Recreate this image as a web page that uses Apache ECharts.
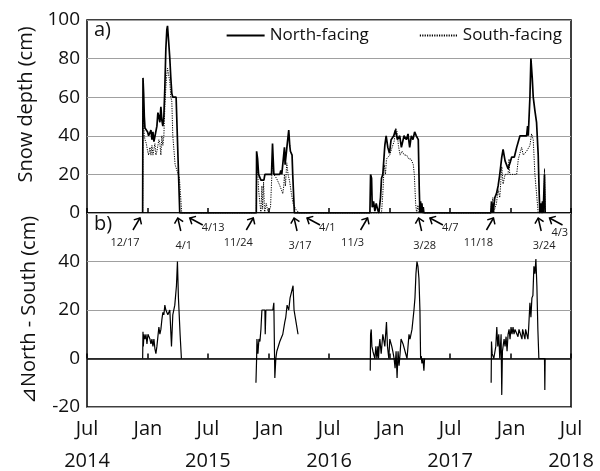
<!DOCTYPE html>
<html><head><meta charset="utf-8">
<script src="https://cdn.jsdelivr.net/npm/echarts@6/dist/echarts.min.js"></script>
<style>html,body{margin:0;padding:0;background:#fff}#c{width:600px;height:471px}</style>
</head><body><div id="c"></div><script>
// ---------------- data ----------------
const northDates = [
 '2014-12-16','2014-12-17','2014-12-19','2014-12-21','2014-12-23','2014-12-27','2014-12-31','2015-01-03','2015-01-07','2015-01-10',
 '2015-01-13','2015-01-16','2015-01-19','2015-01-22','2015-01-25','2015-01-28','2015-01-31','2015-02-03','2015-02-06','2015-02-09',
 '2015-02-12','2015-02-15','2015-02-18','2015-02-21','2015-02-24','2015-02-27','2015-03-01','2015-03-04','2015-03-08','2015-03-11',
 '2015-03-14','2015-03-17','2015-03-27','2015-04-07',
 '2015-11-24','2015-11-25','2015-11-28','2015-12-01','2015-12-05','2015-12-08','2015-12-17','2015-12-20','2016-01-09','2016-01-12',
 '2016-01-14','2016-01-16','2016-02-03','2016-02-06','2016-02-09','2016-02-14','2016-02-17','2016-02-19','2016-02-22','2016-02-25',
 '2016-03-01','2016-03-04','2016-03-06','2016-03-11','2016-03-13','2016-03-18',
 '2016-11-01','2016-11-03','2016-11-06','2016-11-08','2016-11-12','2016-11-16','2016-11-20','2016-11-24','2016-11-28','2016-12-03',
 '2016-12-06','2016-12-10','2016-12-16','2016-12-20','2016-12-25','2016-12-30','2017-01-04','2017-01-12','2017-01-17','2017-01-23',
 '2017-01-30','2017-02-04','2017-02-12','2017-02-19','2017-02-24','2017-03-01','2017-03-06','2017-03-11','2017-03-16','2017-03-21',
 '2017-03-27','2017-03-30','2017-04-01','2017-04-03','2017-04-05','2017-04-07','2017-04-09','2017-04-11','2017-04-13',
 '2017-11-01','2017-11-03','2017-11-04','2017-11-06','2017-11-08','2017-11-13','2017-11-18','2017-11-23','2017-11-28','2017-12-04',
 '2017-12-08','2017-12-14','2017-12-19','2017-12-23','2017-12-29','2018-01-03','2018-01-11','2018-01-18','2018-01-23','2018-01-28',
 '2018-02-07','2018-02-17','2018-02-20','2018-02-22','2018-02-27','2018-03-02','2018-03-06','2018-03-09','2018-03-14','2018-03-19',
 '2018-03-24','2018-03-27','2018-03-29','2018-04-01','2018-04-03','2018-04-06','2018-04-08','2018-04-12','2018-04-14'
];
const northDepth = [
 0,70,62,50,44,43,42,40,40,43,
 38,42,37,36,36,45,52,50,47,55,
 48,45,50,65,85,95,97,90,80,70,
 62,60,60,0,
 0,32,28,20,20,17,17,20,20,36,
 28,20,20,22,20,20,34,25,30,35,
 43,35,32,30,20,0,
 0,20,18,3,6,1,5,2,0,8,
 18,20,35,40,34,31,38,40,43,38,
 40,34,40,38,41,34,40,38,42,40,
 38,12,0,6,0,5,0,3,0,
 0,6,0,5,0,8,10,14,20,29,
 33,27,27,23,26,29,29,34,35,40,
 40,40,45,40,60,80,70,60,53,47,
 30,10,0,5,0,6,0,20,0
];
const southDates = [
 '2014-12-16','2014-12-17','2014-12-19','2014-12-21','2014-12-23','2014-12-27','2014-12-31','2015-01-03','2015-01-07','2015-01-10',
 '2015-01-13','2015-01-16','2015-01-19','2015-01-22','2015-01-25','2015-01-28','2015-01-31','2015-02-03','2015-02-06','2015-02-09',
 '2015-02-12','2015-02-15','2015-02-18','2015-02-21','2015-02-24','2015-02-27','2015-03-01','2015-03-04','2015-03-08','2015-03-11',
 '2015-03-14','2015-03-17','2015-03-24','2015-04-06','2015-04-13',
 '2015-11-24','2015-11-25','2015-11-28','2015-12-01','2015-12-05','2015-12-08','2015-12-11','2015-12-13','2015-12-16','2015-12-19',
 '2015-12-24','2015-12-30','2016-01-06','2016-01-12','2016-01-16','2016-01-24','2016-02-01','2016-02-08','2016-02-12','2016-02-15',
 '2016-02-17','2016-02-20','2016-02-24','2016-02-28','2016-03-04','2016-03-09','2016-03-14','2016-03-22','2016-04-01',
 '2016-12-06','2016-12-10','2016-12-14','2016-12-18','2016-12-21','2016-12-26','2016-12-31','2017-01-05','2017-01-13','2017-01-18',
 '2017-01-22','2017-01-26','2017-01-31','2017-02-06','2017-02-13','2017-02-20','2017-02-26','2017-03-05','2017-03-12','2017-03-15',
 '2017-03-19','2017-03-22','2017-03-26','2017-03-30','2017-04-03','2017-04-07',
 '2017-11-01','2017-11-03','2017-11-05','2017-11-07','2017-11-09','2017-11-18','2017-11-23','2017-11-28','2017-12-04','2017-12-08',
 '2017-12-14','2017-12-23','2017-12-26','2017-12-28','2018-01-11','2018-01-18','2018-01-23','2018-01-28','2018-02-02','2018-02-07',
 '2018-02-17','2018-02-27','2018-03-04','2018-03-09','2018-03-14','2018-03-19','2018-03-24','2018-04-10','2018-04-12','2018-04-14'
];
const southDepth = [
 0,55,48,40,38,36,32,30,34,30,
 35,30,33,36,30,32,32,38,36,30,
 40,35,40,55,65,72,75,72,68,60,
 58,40,25,18,0,
 0,28,22,12,5,0,14,2,16,0,
 5,0,3,28,20,18,15,12,10,14,
 20,14,26,20,16,10,5,2,0,
 0,10,25,20,28,28,30,33,37,44,
 42,35,30,32,30,30,28,28,25,20,
 5,0,4,0,3,0,
 0,5,0,8,0,5,12,8,24,15,
 20,20,28,20,20,20,28,28,34,30,
 32,35,41,38,20,10,0,0,23,0
];
const diffDates = [
 '2014-12-16','2014-12-17','2014-12-18','2014-12-20','2014-12-23','2014-12-26','2014-12-29','2015-01-01','2015-01-04','2015-01-07',
 '2015-01-10','2015-01-13','2015-01-16','2015-01-19','2015-01-22','2015-01-25','2015-01-28','2015-01-31','2015-02-03','2015-02-06',
 '2015-02-09','2015-02-12','2015-02-15','2015-02-18','2015-02-21','2015-02-24','2015-03-02','2015-03-08','2015-03-13','2015-03-17',
 '2015-03-23','2015-03-28','2015-03-31','2015-04-03','2015-04-08','2015-04-12','2015-07-01',
 '2015-11-23','2015-11-25','2015-11-26','2015-11-29','2015-12-02','2015-12-05','2015-12-08','2015-12-11','2015-12-20','2015-12-21',
 '2015-12-23','2016-01-04','2016-01-13','2016-01-16','2016-01-19','2016-01-22','2016-01-25','2016-02-03','2016-02-12','2016-02-18',
 '2016-02-21','2016-02-25','2016-03-01','2016-03-05','2016-03-14','2016-03-17','2016-03-20','2016-03-23','2016-03-29','2016-07-01',
 '2016-11-02','2016-11-03','2016-11-05','2016-11-07','2016-11-10','2016-11-16','2016-11-19','2016-11-22','2016-11-25','2016-11-27',
 '2016-11-29','2016-12-01','2016-12-05','2016-12-10','2016-12-16','2016-12-21','2016-12-24','2016-12-28','2016-12-31','2017-01-06',
 '2017-01-09','2017-01-13','2017-01-16','2017-01-19','2017-01-22','2017-01-25','2017-01-28','2017-01-31','2017-02-03','2017-02-09',
 '2017-02-15','2017-02-21','2017-02-24','2017-02-27','2017-03-02','2017-03-08','2017-03-14','2017-03-17','2017-03-20','2017-03-23',
 '2017-03-26','2017-03-29','2017-04-01','2017-04-03','2017-04-05','2017-04-07','2017-04-10','2017-04-13','2017-04-15','2017-07-01',
 '2017-11-02','2017-11-03','2017-11-05','2017-11-10','2017-11-16','2017-11-19','2017-11-22','2017-11-25','2017-11-28','2017-12-02',
 '2017-12-04','2017-12-06','2017-12-11','2017-12-14','2017-12-17','2017-12-20','2017-12-23','2017-12-26','2017-12-29','2018-01-01',
 '2018-01-04','2018-01-07','2018-01-10','2018-01-13','2018-01-19','2018-01-22','2018-01-25','2018-01-31','2018-02-03','2018-02-05',
 '2018-02-09','2018-02-12','2018-02-14','2018-02-18','2018-02-21','2018-02-23','2018-02-27','2018-03-02','2018-03-05','2018-03-08',
 '2018-03-11','2018-03-14','2018-03-17','2018-03-20','2018-03-23','2018-03-26','2018-04-12','2018-04-13','2018-04-14'
];
const diffValues = [
 0,11,5,10,8,10,6,10,10,8,
 6,8,5,8,4,2,5,9,13,10,
 12,16,19,18,22,20,18,20,5,18,
 22,30,40,25,10,0,null,
 -10,0,8,2,8,7,12,20,20,10,
 20,20,20,23,-8,0,3,7,10,15,
 17,22,20,25,30,20,20,15,10,null,
 -5,10,12,5,3,0,5,0,5,0,
 5,8,2,10,5,15,5,0,8,5,
 3,0,-4,3,-8,3,-3,2,8,6,
 3,0,5,10,8,12,20,25,35,40,
 38,33,20,0,1,-2,0,-5,0,null,
 -10,7,2,0,5,13,5,10,0,10,
 -15,3,8,5,9,3,10,12,8,13,
 10,13,10,12,12,9,12,12,8,12,
 12,8,12,12,8,12,23,17,25,26,
 38,35,41,30,12,0,0,-13,0
];
const xTickDates  = ['2014-07-01','2015-01-01','2015-07-01','2016-01-01','2016-07-01','2017-01-01','2017-07-01','2018-01-01','2018-07-01'];
const xTickMonths = ['Jul','Jan','Jul','Jan','Jul','Jan','Jul','Jan','Jul'];
const xTickYears  = ['2014','','2015','','2016','','2017','','2018'];
const annotDates  = ['2014-12-17','2015-04-01','2015-04-13','2015-11-24','2016-03-17','2016-04-01','2016-11-03','2017-03-28','2017-04-07','2017-11-18','2018-03-24','2018-04-03'];
const annotLabels = ['12/17','4/1','4/13','11/24','3/17','4/1','11/3','3/28','4/7','11/18','3/24','4/3'];
const annotKinds  = ['start','end','end2','start','end','end2','start','end','end2','start','end','end2'];

// ---------------- styling ----------------
const FONT = '"Open Sans", "Noto Sans", sans-serif';
const TXT = '#111';
const ARROW = {
  start: {dx:-3, tail:[-7,12], lx:-15, ly:25, align:'center'},
  end:   {dx:0,  tail:[3,13],  lx:6,   ly:28, align:'center'},
  end2:  {dx:8,  tail:[13,7],  lx:12,  ly:10, align:'left'}
};
const GRID_RIGHT = 29;

function ts(s){const p=s.split('-');return Date.UTC(+p[0],+p[1]-1,+p[2]);}
function zip(d,v){return d.map((x,i)=>[ts(x), v[i]]);}
const tickTs = xTickDates.map(ts);
function xLabel(v){
  const i = tickTs.findIndex(t=>Math.abs(t-v)<43200000);
  if(i<0) return '';
  return '{m|'+xTickMonths[i]+'}\n{y|'+(xTickYears[i]||' ')+'}';
}
function head(tip, tail){
  const a = Math.atan2(tail[1]-tip[1], tail[0]-tip[0]);
  const L = 6.5, w = 0.75;
  return [[tip[0]+L*Math.cos(a-w), tip[1]+L*Math.sin(a-w)], tip, [tip[0]+L*Math.cos(a+w), tip[1]+L*Math.sin(a+w)]];
}

const chart = echarts.init(document.getElementById('c'));
const xMin = ts('2014-07-01'), xMax = ts('2018-07-01');
const axisX = (gi, showLabel)=>({
  gridIndex:gi, type:'value', min:xMin, max:xMax,
  axisLine:{show:false},
  axisTick:{show:true, inside:true, length:5, lineStyle:{color:'#000', width:1.5}, customValues:tickTs},
  axisLabel:{show:showLabel, customValues:tickTs, formatter:xLabel, margin:10, color:TXT, fontFamily:FONT,
    rich:{m:{fontSize:20, lineHeight:24, fontFamily:FONT, color:TXT}, y:{fontSize:20, lineHeight:40, fontFamily:FONT, color:TXT}}},
  splitLine:{show:false}
});
const yCommon = {
  type:'value', axisLine:{show:false}, axisTick:{show:false},
  splitLine:{show:true, lineStyle:{color:'#a0a0a0', width:1}},
  nameLocation:'middle', nameGap:48,
};

chart.setOption({
  animation:false,
  textStyle:{fontFamily:FONT},
  grid:[
    {left:87, right:GRID_RIGHT, top:20, height:193, show:true, borderColor:'#000', borderWidth:1.5},
    {left:87, right:GRID_RIGHT, top:213, height:194, show:true, borderColor:'#000', borderWidth:1.5}
  ],
  legend:{
    data:['North-facing','South-facing'], right:33, top:22, itemGap:50, itemWidth:38, itemHeight:12,
    itemStyle:{color:'transparent', borderColor:'transparent', borderWidth:0, opacity:0},
    textStyle:{fontSize:17, color:TXT, fontFamily:FONT}
  },
  xAxis:[axisX(0,false), axisX(1,true)],
  yAxis:[
    Object.assign({}, yCommon, {gridIndex:0, min:0, max:100, interval:20,
      axisLabel:{fontSize:19, color:TXT, margin:7, fontFamily:FONT},
      name:'Snow depth (cm)', nameTextStyle:{fontSize:20, color:TXT, fontFamily:FONT, padding:[0,0,0,24]}}),
    Object.assign({}, yCommon, {gridIndex:1, min:-20, max:60, interval:20,
      axisLabel:{fontSize:19, color:TXT, margin:7, fontFamily:FONT, formatter:v=> v===60 ? '' : String(v)},
      name:'⊿North - South (cm)', nameTextStyle:{fontSize:20, color:TXT, fontFamily:FONT}})
  ],
  graphic:[
    {type:'text', left:94, top:20, style:{text:'a)', font:'20px '+FONT, fill:TXT}},
    {type:'text', left:94, top:214, style:{text:'b)', font:'20px '+FONT, fill:TXT}}
  ],
  series:[
    {type:'line', name:'South-facing', xAxisIndex:0, yAxisIndex:0, data:zip(southDates, southDepth),
     symbol:'none', showSymbol:false, lineStyle:{color:'#000', width:1, type:[1.2,1.2]}, itemStyle:{color:'#000'}},
    {type:'line', name:'North-facing', xAxisIndex:0, yAxisIndex:0, data:zip(northDates, northDepth),
     symbol:'none', showSymbol:false, lineStyle:{color:'#000', width:1.7}, itemStyle:{color:'#000'}},
    {type:'line', name:'diff', xAxisIndex:1, yAxisIndex:1, data:zip(diffDates, diffValues),
     symbol:'none', showSymbol:false, connectNulls:false, lineStyle:{color:'#000', width:1.2},
     markLine:{silent:true, symbol:'none', label:{show:false}, lineStyle:{color:'#000', type:'solid', width:1.6}, data:[{yAxis:0}]}},
    {type:'custom', name:'annot', xAxisIndex:1, yAxisIndex:1, silent:true, clip:false,
     data: annotDates.map((d,i)=>[ts(d), 60, i]),
     renderItem(params, api){
       const i = api.value(2);
       const p = api.coord([api.value(0), api.value(1)]);
       const k = ARROW[annotKinds[i]];
       const tip = [p[0]+k.dx, p[1]+5];
       const tail = [tip[0]+k.tail[0], tip[1]+k.tail[1]];
       const st = {stroke:'#000', lineWidth:1.5, fill:null};
       const font = '11px '+FONT;
       let lx = tip[0]+k.lx, ly = tip[1]+k.ly;
       const w = echarts.format.getTextRect ? echarts.format.getTextRect(annotLabels[i], font).width : 20;
       const rightEdge = api.getWidth() - GRID_RIGHT - 3;
       if (k.align === 'left' && lx + w > rightEdge) { lx = rightEdge - w; ly = tip[1] + 15; }
       return {type:'group', children:[
         {type:'polyline', shape:{points:[tail, tip]}, style:st},
         {type:'polyline', shape:{points:head(tip, tail)}, style:st},
         {type:'text', style:{text:annotLabels[i], x:lx, y:ly, align:k.align, verticalAlign:'middle', font:font, fill:'#222'}}
       ]};
     }}
  ]
});
</script></body></html>
